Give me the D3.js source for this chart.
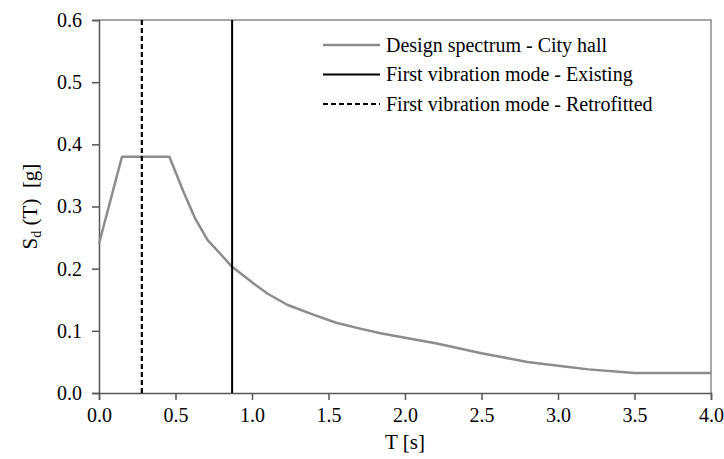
<!DOCTYPE html>
<html><head><meta charset="utf-8">
<script src="https://cdn.jsdelivr.net/npm/d3@7"></script>
<style>body{margin:0;background:#fff}svg{display:block}svg text{font-family:'Liberation Serif','Tinos','Times New Roman','Times','Noto Serif','DejaVu Serif','FreeSerif','Nimbus Roman','Nimbus Roman No9 L',serif !important;fill:#000}</style>
</head><body><svg id="c" width="724" height="459"></svg>
<script>
const periods = [0, 0.15, 0.46, 0.55, 0.63, 0.71, 0.80, 0.87, 1.0, 1.1, 1.23, 1.4, 1.55, 1.7, 1.84, 2.0, 2.2, 2.5, 2.8, 3.0, 3.2, 3.5, 4.0];
const spectrum = [0.24, 0.38, 0.38, 0.325, 0.28, 0.246, 0.222, 0.203, 0.178, 0.16, 0.142, 0.126, 0.113, 0.104, 0.096, 0.089, 0.080, 0.064, 0.050, 0.044, 0.038, 0.032, 0.032];
const modeExisting = 0.87;
const modeRetrofitted = 0.28;
const xTicks = [0, 0.5, 1, 1.5, 2, 2.5, 3, 3.5, 4];
const yTicks = [0, 0.1, 0.2, 0.3, 0.4, 0.5, 0.6];
const legendLabels = ["Design spectrum - City hall", "First vibration mode - Existing", "First vibration mode - Retrofitted"];

const svg = d3.select("#c");
const L = 99, R = 711, T = 20, B = 393;
const x = d3.scaleLinear().domain([0, 4]).range([L, R]);
const y = d3.scaleLinear().domain([0, 0.6]).range([B, T]);
const fs = 20;

svg.append("path").attr("d", `M${L},${T}H${R}V${B}`).attr("fill", "none").attr("stroke", "#8a8a8a").attr("stroke-width", 1.5);

const xa = svg.append("g").attr("transform", `translate(0,${B})`)
  .call(d3.axisBottom(x).tickValues(xTicks).tickFormat(d3.format(".1f")).tickSize(7).tickPadding(8));
const ya = svg.append("g").attr("transform", `translate(${L},0)`)
  .call(d3.axisLeft(y).tickValues(yTicks).tickFormat(d3.format(".1f")).tickSize(7).tickPadding(10));
[xa, ya].forEach(g => {
  g.attr("font-family", null).attr("font-size", null);
  g.select(".domain").attr("stroke", "#555").attr("stroke-width", 1.5);
  g.selectAll(".tick line").attr("stroke", "#555").attr("stroke-width", 1.5);
  g.selectAll(".tick text").style("font-size", fs + "px").attr("fill", "#000");
});

const pts = periods.map((t, i) => [t, spectrum[i]]);
svg.append("path").datum(pts)
  .attr("d", d3.line().x(d => x(d[0])).y(d => y(d[1])))
  .attr("fill", "none").attr("stroke", "#8c8c8c").attr("stroke-width", 2.5).attr("stroke-linejoin", "round");

svg.append("line").attr("x1", x(modeExisting)).attr("x2", x(modeExisting)).attr("y1", y(0.6)).attr("y2", y(0))
  .attr("stroke", "#000").attr("stroke-width", 2);
svg.append("line").attr("x1", x(modeRetrofitted)).attr("x2", x(modeRetrofitted)).attr("y1", y(0.6)).attr("y2", y(0))
  .attr("stroke", "#000").attr("stroke-width", 2.2).attr("stroke-dasharray", "5,3");

const styles = [{c:"#8c8c8c", w:2.5, d:null}, {c:"#000", w:2, d:null}, {c:"#000", w:2.2, d:"5,3"}];
legendLabels.forEach((lab, i) => {
  const yy = 45 + i * 29.5;
  svg.append("line").attr("x1", 323).attr("x2", 380).attr("y1", yy).attr("y2", yy)
    .attr("stroke", styles[i].c).attr("stroke-width", styles[i].w).attr("stroke-dasharray", styles[i].d);
  svg.append("text").attr("x", 386).attr("y", yy).attr("dy", "0.33em").style("font-size", fs + "px").text(lab);
});

svg.append("text").attr("x", (L + R) / 2).attr("y", 449).attr("text-anchor", "middle").style("font-size", (fs + 1) + "px").text("T [s]");
const yt = svg.append("text").attr("transform", `translate(37,${(T + B) / 2}) rotate(-90)`).attr("text-anchor", "middle").style("font-size", (fs + 1) + "px");
yt.append("tspan").text("S");
yt.append("tspan").style("font-size", "14px").attr("dy", 4).text("d");
yt.append("tspan").attr("dy", -4).text(" (T)\u00a0\u00a0[g]");
</script></body></html>
